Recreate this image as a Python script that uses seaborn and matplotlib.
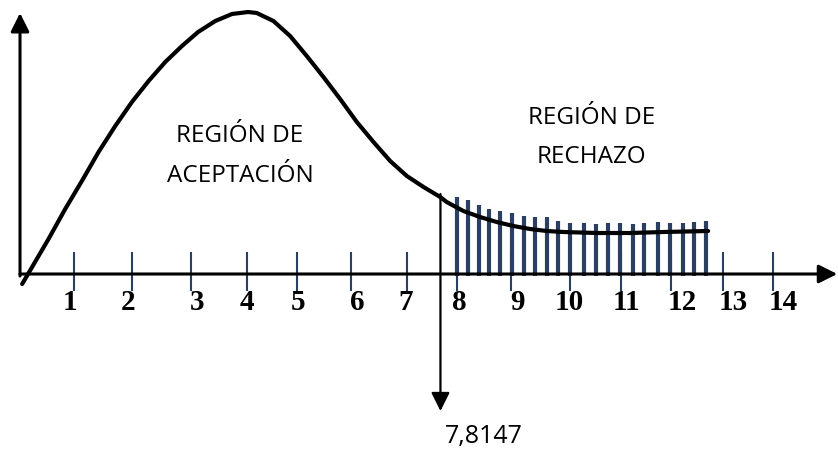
import numpy as np
import pandas as pd
import seaborn as sns
import matplotlib.pyplot as plt

# curve (x = chi-square value, y = height)
curve_x = [0.04, 0.53, 0.84, 1.15, 1.46, 1.77, 2.08, 2.39, 2.70, 3.01, 3.31, 3.63, 3.94,
           4.24, 4.40, 4.71, 5.02, 5.33, 5.64, 5.95, 6.26, 6.57, 6.88, 7.19, 7.50,
           7.81, 7.93, 8.24, 8.55, 8.86, 9.17, 9.48, 9.79, 10.10, 10.72, 11.34, 11.96, 12.79]
curve_y = [-0.10, 0.35, 0.65, 0.93, 1.22, 1.48, 1.72, 1.93, 2.12, 2.28, 2.42, 2.53, 2.60,
           2.62, 2.61, 2.53, 2.38, 2.18, 1.97, 1.75, 1.52, 1.32, 1.13, 0.98, 0.87,
           0.77, 0.72, 0.63, 0.57, 0.52, 0.48, 0.45, 0.43, 0.42, 0.41, 0.41, 0.42, 0.43]

# shaded rejection region bars
bar_x = [8.12, 8.32, 8.53, 8.72, 8.93, 9.15, 9.36, 9.57, 9.79, 10.00, 10.22,
         10.48, 10.70, 10.92, 11.16, 11.39, 11.60, 11.85, 12.09, 12.32, 12.53, 12.75]
bar_h = [0.77, 0.74, 0.69, 0.65, 0.63, 0.61, 0.58, 0.57, 0.57, 0.53, 0.51,
         0.51, 0.50, 0.51, 0.51, 0.50, 0.51, 0.52, 0.51, 0.51, 0.52, 0.53]

# hand drawn tick marks
tick_pos = [1.00, 2.08, 3.18, 4.22, 5.15, 6.15, 7.19, 8.12, 9.13, 10.22, 11.17, 12.10, 13.07, 14.00]
tick_labels = ["1", "2", "3", "4", "5", "6", "7", "8", "9", "10", "11", "12", "13", "14"]
label_pos = [0.93, 2.01, 3.29, 4.22, 5.17, 6.26, 7.16, 8.16, 9.24, 10.20, 11.28, 12.30, 13.25, 14.18]

critical = 7.8147
critical_label = "7,8147"

navy = "#2a3f62"

sns.set_style("white")
plt.rcParams["text.color"] = "black"
fig = plt.figure(figsize=(8.38, 4.52), dpi=100)
ax = fig.add_axes([0, 0, 1, 1])
ax.set_xlim(-0.372, 15.204)
ax.set_ylim(-1.77, 2.75)
ax.axis("off")

ax.vlines(bar_x, -0.02, bar_h, color=navy, lw=3)

df = pd.DataFrame({"x": curve_x, "y": curve_y})
sns.lineplot(data=df, x="x", y="y", sort=False, estimator=None, color="black",
             lw=3, ax=ax, solid_capstyle="round", solid_joinstyle="round")

ax.vlines(tick_pos, -0.17, 0.22, color=navy, lw=1.5)

arrow = dict(arrowstyle="-|>,head_length=0.8,head_width=0.4", color="black",
             lw=2.2, shrinkA=0, shrinkB=0, mutation_scale=14)
# axes
ax.annotate("", xy=(15.19, 0), xytext=(0.0, 0), arrowprops=arrow)
ax.annotate("", xy=(0.0, 2.61), xytext=(0.0, -0.02), arrowprops=arrow)
# critical value
crit_arrow = dict(arrow, lw=1.6)
ax.annotate("", xy=(critical, -1.37), xytext=(critical, 0.80), arrowprops=crit_arrow)

for p, t in zip(label_pos, tick_labels):
    ax.text(p, -0.28, t, ha="center", va="center", fontsize=21,
            family="Liberation Serif", fontweight="bold")

ax.text(critical + 0.8, -1.62, critical_label, ha="center", va="center",
        fontsize=18, family="Open Sans")

ax.text(4.09, 1.19, "REGIÓN DE\nACEPTACIÓN", ha="center", va="center",
        fontsize=17.5, family="Open Sans", linespacing=1.85)
ax.text(10.63, 1.375, "REGIÓN DE\nRECHAZO", ha="center", va="center",
        fontsize=17.5, family="Open Sans", linespacing=1.85)

fig.savefig("out.png", dpi=100)
